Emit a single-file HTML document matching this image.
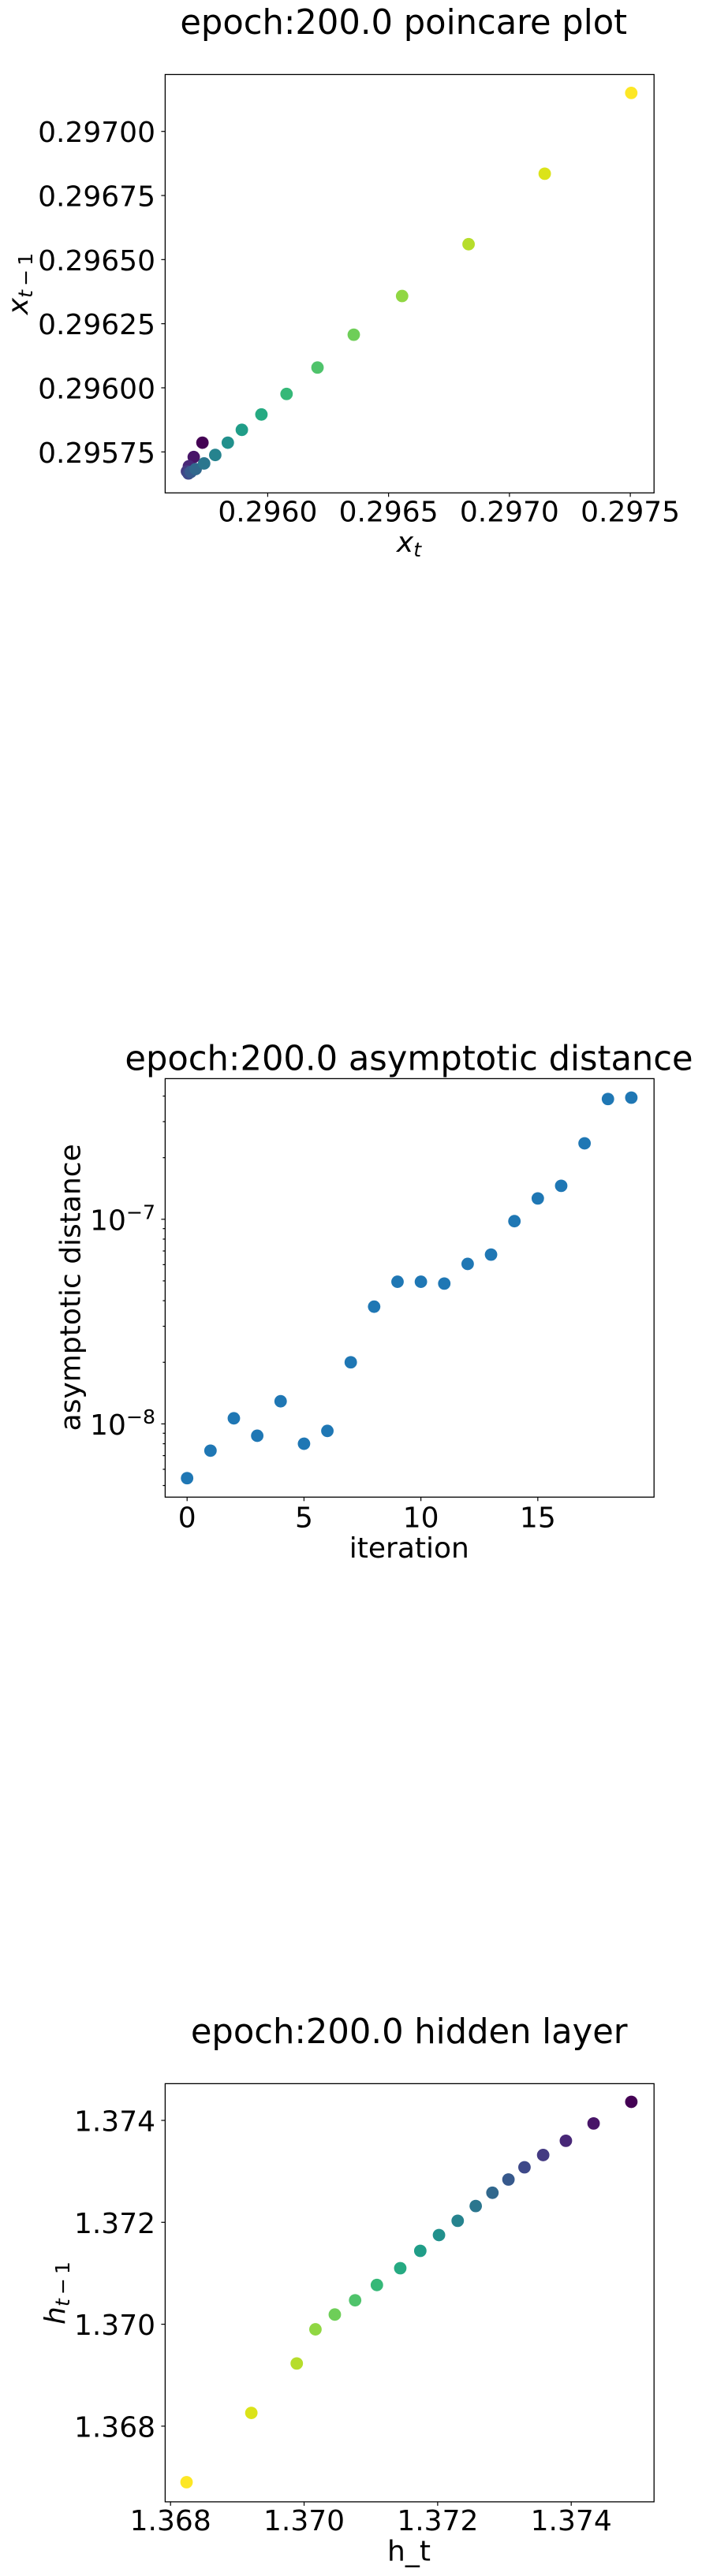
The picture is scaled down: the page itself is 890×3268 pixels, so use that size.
<!DOCTYPE html>
<html>
<head>
<meta charset="utf-8">
<title>epoch 200 plots</title>
<style>
html,body{margin:0;padding:0;background:#fff;}
svg{display:block;}
text{font-family:"DejaVu Sans","Liberation Sans",sans-serif;fill:#000;}
.t{font-size:43.2px;text-anchor:middle;}
.l{font-size:36px;text-anchor:middle;}
.k{font-size:36px;}
</style>
</head>
<body>
<svg id="fig" width="890" height="3268" viewBox="0 0 890 3268" xmlns="http://www.w3.org/2000/svg">
<rect x="0" y="0" width="890" height="3268" fill="#fff"/>

<text class="t" x="511.7" y="42.8">epoch:200.0 poincare plot</text>
<text class="l" x="518.5" y="700"><tspan font-style="italic">x</tspan><tspan font-style="italic" font-size="25.2" dy="6">t</tspan></text>
<text class="l" transform="translate(35 360) rotate(-90)"><tspan font-style="italic">x</tspan><tspan font-size="25.2" dy="6"><tspan font-style="italic">t</tspan>&#8201;−&#8201;1</tspan></text>

<text class="t" x="518.5" y="1357.5">epoch:200.0 asymptotic distance</text>
<text class="l" x="518.8" y="1976">iteration</text>
<text class="l" transform="translate(101.7 1633.3) rotate(-90)">asymptotic distance</text>

<text class="t" x="518.7" y="2592">epoch:200.0 hidden layer</text>
<text class="l" x="518.5" y="3248.5">h_t</text>
<text class="l" transform="translate(82 2909) rotate(-90)"><tspan font-style="italic">h</tspan><tspan font-size="25.2" dy="6"><tspan font-style="italic">t</tspan>&#8201;−&#8201;1</tspan></text>
</svg>

<script>
// Poincare plot data
const poincareX = [0.29573,0.295694,0.295674,0.295666,0.295672,0.295682,0.295702,0.295737,0.295783,0.295835,0.295893,0.295974,0.296078,0.296206,0.296356,0.296556,0.296831,0.297146,0.297504];
const poincareY = [0.295786,0.29573,0.295694,0.295674,0.295666,0.295672,0.295683,0.295705,0.295738,0.295786,0.295836,0.295896,0.295976,0.296079,0.296207,0.296358,0.29656,0.296835,0.29715];
const poincareXTicks = [0.2960,0.2965,0.2970,0.2975];
const poincareXLabels = ["0.2960","0.2965","0.2970","0.2975"];
const poincareYTicks = [0.29575,0.296,0.29625,0.2965,0.29675,0.297];
const poincareYLabels = ["0.29575","0.29600","0.29625","0.29650","0.29675","0.29700"];

// Asymptotic distance data
const iterations = [0,1,2,3,4,5,6,7,8,9,10,11,12,13,14,15,16,17,18,19];
const distances = [5.43e-9,7.4e-9,1.065e-8,8.75e-9,1.29e-8,8.0e-9,9.24e-9,2.0e-8,3.74e-8,4.95e-8,4.95e-8,4.85e-8,6.05e-8,6.72e-8,9.79e-8,1.264e-7,1.457e-7,2.35e-7,3.87e-7,3.93e-7];
const distXTicks = [0,5,10,15];
const distXLabels = ["0","5","10","15"];
const distMajorExponents = [-7,-8];
const distMinorTicks = [5e-9,6e-9,7e-9,8e-9,9e-9,2e-8,3e-8,4e-8,5e-8,6e-8,7e-8,8e-8,9e-8,2e-7,3e-7,4e-7];

// Hidden layer data
const hiddenX = [1.3749,1.374335,1.37392,1.37358,1.3733,1.37306,1.37282,1.37257,1.3723,1.37202,1.37174,1.37144,1.37109,1.370764,1.37046,1.37017,1.36989,1.36921,1.36824];
const hiddenY = [1.374364,1.37394,1.3736,1.37332,1.37308,1.37284,1.37258,1.37232,1.37203,1.37175,1.37144,1.3711,1.37077,1.37047,1.37019,1.3699,1.36923,1.36826,1.3669];
const hiddenXTicks = [1.368,1.370,1.372,1.374];
const hiddenXLabels = ["1.368","1.370","1.372","1.374"];
const hiddenYTicks = [1.368,1.370,1.372,1.374];
const hiddenYLabels = ["1.368","1.370","1.372","1.374"];

const viridisStops = ["#440154","#481467","#482576","#453781","#404688","#39558c","#33638d","#2d718e","#287d8e","#238a8d","#1f968b","#20a386","#29af7f","#3dbc74","#56c667","#75d054","#95d840","#bade28","#dde318","#fde725"];

const NS = "http://www.w3.org/2000/svg";
const fig = document.getElementById("fig");

function linearScale(d0, d1, p0, p1) {
  return function (v) { return p0 + (v - d0) / (d1 - d0) * (p1 - p0); };
}
function logScale(d0, d1, p0, p1) {
  return function (v) { return p0 + (Math.log10(v) - d0) / (d1 - d0) * (p1 - p0); };
}
function viridis(t) {
  const pos = t * (viridisStops.length - 1);
  const i = Math.min(Math.floor(pos), viridisStops.length - 2);
  const f = pos - i;
  const a = viridisStops[i], b = viridisStops[i + 1];
  let out = "rgb(";
  for (let c = 0; c < 3; c++) {
    const x = parseInt(a.substr(1 + c * 2, 2), 16);
    const y = parseInt(b.substr(1 + c * 2, 2), 16);
    out += Math.round(x + (y - x) * f) + (c < 2 ? "," : ")");
  }
  return out;
}
function drawFrame(left, top, right, bottom, name) {
  const r = document.createElementNS(NS, "rect");
  r.setAttribute("x", left);
  r.setAttribute("y", top);
  r.setAttribute("width", right - left);
  r.setAttribute("height", bottom - top);
  r.setAttribute("fill", "none");
  r.setAttribute("stroke", "#000");
  r.setAttribute("stroke-width", "1.3");
  
  
  fig.appendChild(r);
}
function drawTickLine(x1, y1, x2, y2) {
  const l = document.createElementNS(NS, "line");
  l.setAttribute("x1", x1);
  l.setAttribute("y1", y1);
  l.setAttribute("x2", x2);
  l.setAttribute("y2", y2);
  l.setAttribute("stroke", "#000");
  l.setAttribute("stroke-width", "1.2");
  
  
  fig.appendChild(l);
}
function drawTickText(str, x, y, anchor) {
  const t = document.createElementNS(NS, "text");
  t.setAttribute("class", "k");
  t.setAttribute("x", x);
  t.setAttribute("y", y);
  t.setAttribute("text-anchor", anchor);
  t.textContent = str;
  
  
  fig.appendChild(t);
}
function drawPowerLabel(exp, y) {
  const t = document.createElementNS(NS, "text");
  t.setAttribute("class", "k");
  t.setAttribute("x", 197);
  t.setAttribute("y", y + 13.5);
  t.setAttribute("text-anchor", "end");
  
  
  const base = document.createElementNS(NS, "tspan");
  base.textContent = "10";
  const sup = document.createElementNS(NS, "tspan");
  sup.setAttribute("font-size", "25.2");
  sup.setAttribute("dy", "-14");
  sup.textContent = "−" + Math.abs(exp);
  t.appendChild(base);
  t.appendChild(sup);
  fig.appendChild(t);
}
function drawPoint(cx, cy, color, name) {
  const c = document.createElementNS(NS, "circle");
  c.setAttribute("cx", cx);
  c.setAttribute("cy", cy);
  c.setAttribute("r", 7.9);
  c.setAttribute("fill", color);
  
  
  fig.appendChild(c);
}
function xTicks(ticks, labels, sx, bottom, baseline) {
  ticks.forEach(function (v, i) {
    const x = sx(v);
    drawTickLine(x, bottom, x, bottom + 5);
    drawTickText(labels[i], x, baseline, "middle");
  });
}
function yTicks(ticks, labels, sy, left) {
  ticks.forEach(function (v, i) {
    const y = sy(v);
    drawTickLine(left - 5, y, left, y);
    drawTickText(labels[i], 197, y + 13.5, "end");
  });
}

// Poincare plot axes
const p1x = linearScale(0.296, 0.2975, 339.4, 799.1);
const p1y = linearScale(0.29575, 0.297, 573.3, 166.7);
xTicks(poincareXTicks, poincareXLabels, p1x, 625.3, 661.6);
yTicks(poincareYTicks, poincareYLabels, p1y, 209.4);
poincareX.forEach(function (v, i) {
  drawPoint(p1x(v), p1y(poincareY[i]), viridis(i / (poincareX.length - 1)), 'poincare-point');
});
drawFrame(209.4, 94.5, 829.2, 625.3, 'poincare-plot-area');

// Asymptotic distance axes
const p2x = linearScale(0, 19, 237.2, 800.4);
const p2y = logScale(-8, -7, 1806.4, 1546.8);
xTicks(distXTicks, distXLabels, p2x, 1899.3, 1937.3);
distMajorExponents.forEach(function (e) {
  const y = p2y(Math.pow(10, e));
  drawTickLine(204.4, y, 209.4, y);
  drawPowerLabel(e, y);
});
distMinorTicks.forEach(function (v) {
  const y = p2y(v);
  drawTickLine(206.4, y, 209.4, y);
});
iterations.forEach(function (v, i) {
  drawPoint(p2x(v), p2y(distances[i]), "#1f77b4", 'distance-point');
});
drawFrame(209.4, 1368.4, 829.2, 1899.3, 'asymptotic-plot-area');

// Hidden layer axes
const p3x = linearScale(1.368, 1.374, 216.2, 724.2);
const p3y = linearScale(1.368, 1.374, 3077.9, 2690);
xTicks(hiddenXTicks, hiddenXLabels, p3x, 3173.9, 3210);
yTicks(hiddenYTicks, hiddenYLabels, p3y, 209.4);
hiddenX.forEach(function (v, i) {
  drawPoint(p3x(v), p3y(hiddenY[i]), viridis(i / (hiddenX.length - 1)), 'hidden-layer-point');
});
drawFrame(209.4, 2643.4, 829.2, 3173.9, 'hidden-layer-plot-area');
</script>
</body>
</html>
